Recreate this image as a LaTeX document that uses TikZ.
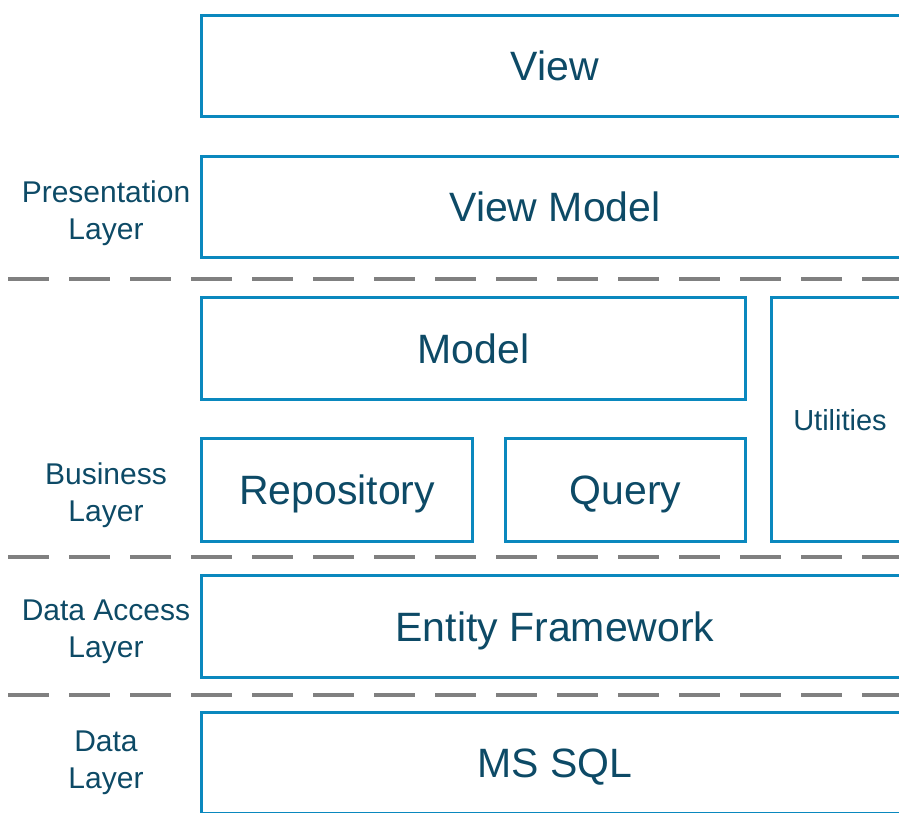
\documentclass[tikz,border=0pt]{standalone}
\usepackage{fontspec}
\setmainfont{Liberation Sans}
\definecolor{boxblue}{HTML}{0A88BE}
\definecolor{txt}{HTML}{0D4A66}
\definecolor{dashgray}{HTML}{808080}
\begin{document}
\begin{tikzpicture}[x=1pt,y=-1pt,
  layerbox/.style={draw=boxblue, line width=3pt, text=txt, inner sep=0pt, text depth=0pt, font=\fontsize{41}{49}\selectfont},
  sidelabel/.style={text=txt, align=center, inner sep=0pt, font=\fontsize{30}{37}\selectfont},
  sep/.style={draw=dashgray, line width=4pt, dash pattern=on 41pt off 20pt}]
\useasboundingbox (0,0) rectangle (899,812);
\begin{scope}
\clip (0,0) rectangle (899,812);
\node[layerbox, minimum width=707pt, minimum height=101pt] (view) at (555,66) {View};
\node[layerbox, minimum width=707pt, minimum height=101pt] (vm) at (555,207) {View Model};
\node[layerbox, minimum width=544pt, minimum height=102pt] (model) at (473.5,348.5) {Model};
\node[layerbox, minimum width=271pt, minimum height=103pt] (repo) at (337,490) {Repository};
\node[layerbox, minimum width=240pt, minimum height=103pt] (query) at (625.5,490) {Query};
\node[layerbox, minimum width=137pt, minimum height=244pt, font=\fontsize{29}{35}\selectfont] (util) at (840,419.5) {Utilities};
\node[layerbox, minimum width=707pt, minimum height=102pt] (ef) at (555,626.5) {Entity Framework};
\node[layerbox, minimum width=707pt, minimum height=101pt] (sql) at (555,763) {MS SQL};
\coordinate (d1l) at (8,279); \coordinate (d1r) at (910,279);
\coordinate (d2l) at (8,557); \coordinate (d2r) at (910,557);
\coordinate (d3l) at (8,695); \coordinate (d3r) at (910,695);
\draw[sep] (d1l) -- (d1r);
\draw[sep] (d2l) -- (d2r);
\draw[sep] (d3l) -- (d3r);
\end{scope}
\node[sidelabel] (lp) at (106,213) {Presentation\\Layer};
\node[sidelabel] (lb) at (106,495) {Business\\Layer};
\node[sidelabel] (lda) at (106,632) {Data Access\\Layer};
\node[sidelabel] (ld) at (106,763) {Data\\Layer};
\end{tikzpicture}
\end{document}
